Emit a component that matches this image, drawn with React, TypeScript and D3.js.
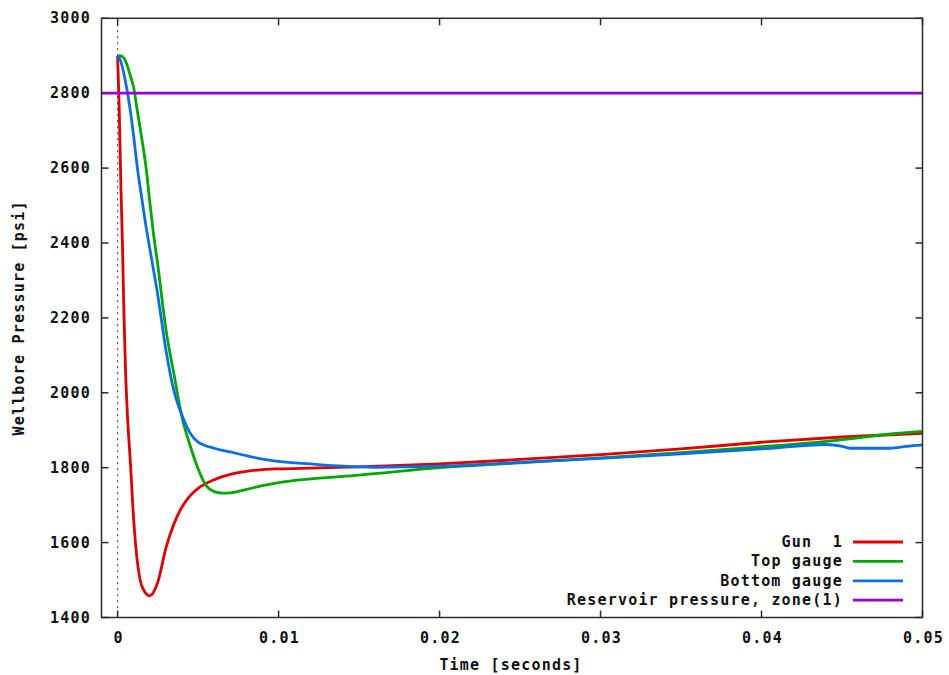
import React, { useRef, useEffect } from 'react'
import * as d3 from 'd3'

// time in seconds, pressure in psi
const gunT = [0, 0.0001, 0.0002, 0.0003, 0.0004, 0.0005, 0.0006, 0.0008, 0.001, 0.0012, 0.0014, 0.0016, 0.0018, 0.002, 0.0022, 0.0025, 0.003, 0.0035, 0.004, 0.0045, 0.005, 0.006, 0.007, 0.008, 0.009, 0.01, 0.012, 0.015, 0.02, 0.025, 0.03, 0.035, 0.04, 0.045, 0.05]
const gunP = [2900, 2760, 2560, 2400, 2200, 2050, 1950, 1810, 1660, 1560, 1500, 1475, 1462, 1458, 1465, 1495, 1585, 1650, 1695, 1725, 1745, 1768, 1782, 1790, 1795, 1797, 1799, 1802, 1810, 1822, 1835, 1850, 1868, 1882, 1892]

const topT = [0, 0.0003, 0.0005, 0.0008, 0.001, 0.0012, 0.0015, 0.0018, 0.002, 0.0022, 0.0025, 0.003, 0.0035, 0.004, 0.0045, 0.005, 0.0055, 0.006, 0.0065, 0.007, 0.008, 0.009, 0.01, 0.012, 0.015, 0.02, 0.025, 0.03, 0.035, 0.04, 0.043, 0.046, 0.048, 0.05]
const topP = [2900, 2898, 2885, 2845, 2815, 2760, 2680, 2590, 2510, 2435, 2340, 2170, 2050, 1935, 1860, 1797, 1752, 1736, 1732, 1733, 1742, 1752, 1760, 1770, 1780, 1800, 1813, 1826, 1840, 1856, 1866, 1880, 1890, 1897]

const botT = [0, 0.0002, 0.0004, 0.0006, 0.0008, 0.001, 0.0012, 0.0015, 0.0018, 0.002, 0.0025, 0.003, 0.0035, 0.004, 0.0045, 0.005, 0.006, 0.007, 0.008, 0.009, 0.01, 0.012, 0.014, 0.016, 0.02, 0.025, 0.03, 0.035, 0.04, 0.044, 0.045, 0.0455, 0.048, 0.049, 0.05]
const botP = [2900, 2885, 2850, 2805, 2750, 2685, 2610, 2520, 2435, 2385, 2260, 2115, 2005, 1940, 1893, 1868, 1852, 1842, 1832, 1823, 1817, 1810, 1804, 1801, 1804, 1814, 1825, 1837, 1850, 1862, 1857, 1852, 1852, 1857, 1861]

const reservoirP = 2800

const seriesNames = ['Gun  1', 'Top gauge', 'Bottom gauge', 'Reservoir pressure, zone(1)']
const seriesColors = ['#e00000', '#00a800', '#0a6ee6', '#9800d8']

const xTicks = [0, 0.01, 0.02, 0.03, 0.04, 0.05]
const yTicks = [1400, 1600, 1800, 2000, 2200, 2400, 2600, 2800, 3000]

const Chart = () => {
  const svgRef = useRef(null)

  useEffect(() => {
    const width = 949
    const height = 675
    const left = 101.5, right = 922.5, top = 18.3, bottom = 617.5
    const font = '"DejaVu Sans Mono", "Liberation Mono", monospace'

    const svg = d3.select(svgRef.current)
    svg.selectAll('*').remove()
    svg.attr('width', width).attr('height', height)

    const x = d3.scaleLinear([-0.001, 0.05], [left, right])
    const y = d3.scaleLinear([1400, 3000], [bottom, top])

    const axisColor = '#2a2a2a'

    // zero axis (dotted)
    svg.append('line')
      .attr('x1', x(0)).attr('x2', x(0))
      .attr('y1', top).attr('y2', bottom)
      .attr('stroke', '#555')
      .attr('stroke-width', 1.2)
      .attr('stroke-dasharray', '2,4')

    const label = (sel) => sel
      .attr('font-family', font)
      .attr('font-weight', 'bold')
      .attr('font-size', 15)
      .attr('letter-spacing', '1.2px')
      .attr('fill', '#111')
      .style('white-space', 'pre')

    // y ticks (left + mirrored right)
    const yg = svg.append('g')
    yTicks.forEach(v => {
      yg.append('line').attr('x1', left).attr('x2', left + 7)
        .attr('y1', y(v)).attr('y2', y(v)).attr('stroke', axisColor).attr('stroke-width', 1.5)
      yg.append('line').attr('x1', right).attr('x2', right - 7)
        .attr('y1', y(v)).attr('y2', y(v)).attr('stroke', axisColor).attr('stroke-width', 1.5)
      yg.append('text').call(label)
        .attr('x', 91).attr('y', y(v))
        .attr('text-anchor', 'end')
        .attr('dominant-baseline', 'central')
        .text(d3.format('d')(v))
    })

    // x ticks (bottom + mirrored top)
    const xg = svg.append('g')
    xTicks.forEach(v => {
      xg.append('line').attr('x1', x(v)).attr('x2', x(v))
        .attr('y1', bottom).attr('y2', bottom - 7).attr('stroke', axisColor).attr('stroke-width', 1.5)
      xg.append('line').attr('x1', x(v)).attr('x2', x(v))
        .attr('y1', top).attr('y2', top + 7).attr('stroke', axisColor).attr('stroke-width', 1.5)
      xg.append('text').call(label)
        .attr('x', x(v) + 1).attr('y', 638)
        .attr('text-anchor', 'middle')
        .attr('dominant-baseline', 'central')
        .text(v === 0 ? '0' : d3.format('.2f')(v))
    })

    const line = d3.line().x(d => x(d[0])).y(d => y(d[1])).curve(d3.curveMonotoneX)
    const plot = svg.append('g')

    const series = [
      d3.zip(gunT, gunP),
      d3.zip(topT, topP),
      d3.zip(botT, botP),
      [[-0.001, reservoirP], [0.05, reservoirP]]
    ]

    series.forEach((pts, i) => {
      plot.append('path')
        .attr('d', line(pts))
        .attr('fill', 'none')
        .attr('stroke', seriesColors[i])
        .attr('stroke-width', 2.8)
        .attr('stroke-linejoin', 'round')
    })

    // frame
    svg.append('rect')
      .attr('x', left).attr('y', top)
      .attr('width', right - left).attr('height', bottom - top)
      .attr('fill', 'none').attr('stroke', axisColor).attr('stroke-width', 1.5)

    // legend
    const lg = svg.append('g')
    seriesNames.forEach((name, i) => {
      const ly = 542 + i * 19.4
      lg.append('text').call(label)
        .attr('x', 843).attr('y', ly)
        .attr('text-anchor', 'end')
        .attr('dominant-baseline', 'central')
        .text(name)
      lg.append('line')
        .attr('x1', 853).attr('x2', 903)
        .attr('y1', ly).attr('y2', ly)
        .attr('stroke', seriesColors[i]).attr('stroke-width', 2.8)
    })

    // axis titles
    svg.append('text').call(label)
      .attr('x', 511).attr('y', 665)
      .attr('text-anchor', 'middle')
      .attr('dominant-baseline', 'central')
      .text('Time [seconds]')

    svg.append('text').call(label)
      .attr('transform', `translate(19,${(top + bottom) / 2}) rotate(-90)`)
      .attr('text-anchor', 'middle')
      .attr('dominant-baseline', 'central')
      .text('Wellbore Pressure [psi]')
  }, [])

  return (
    <svg ref={svgRef} style={{ position: 'absolute', left: 0, top: 0, background: '#fff' }} />
  )
}

export default function App() {
  return <Chart />
}
